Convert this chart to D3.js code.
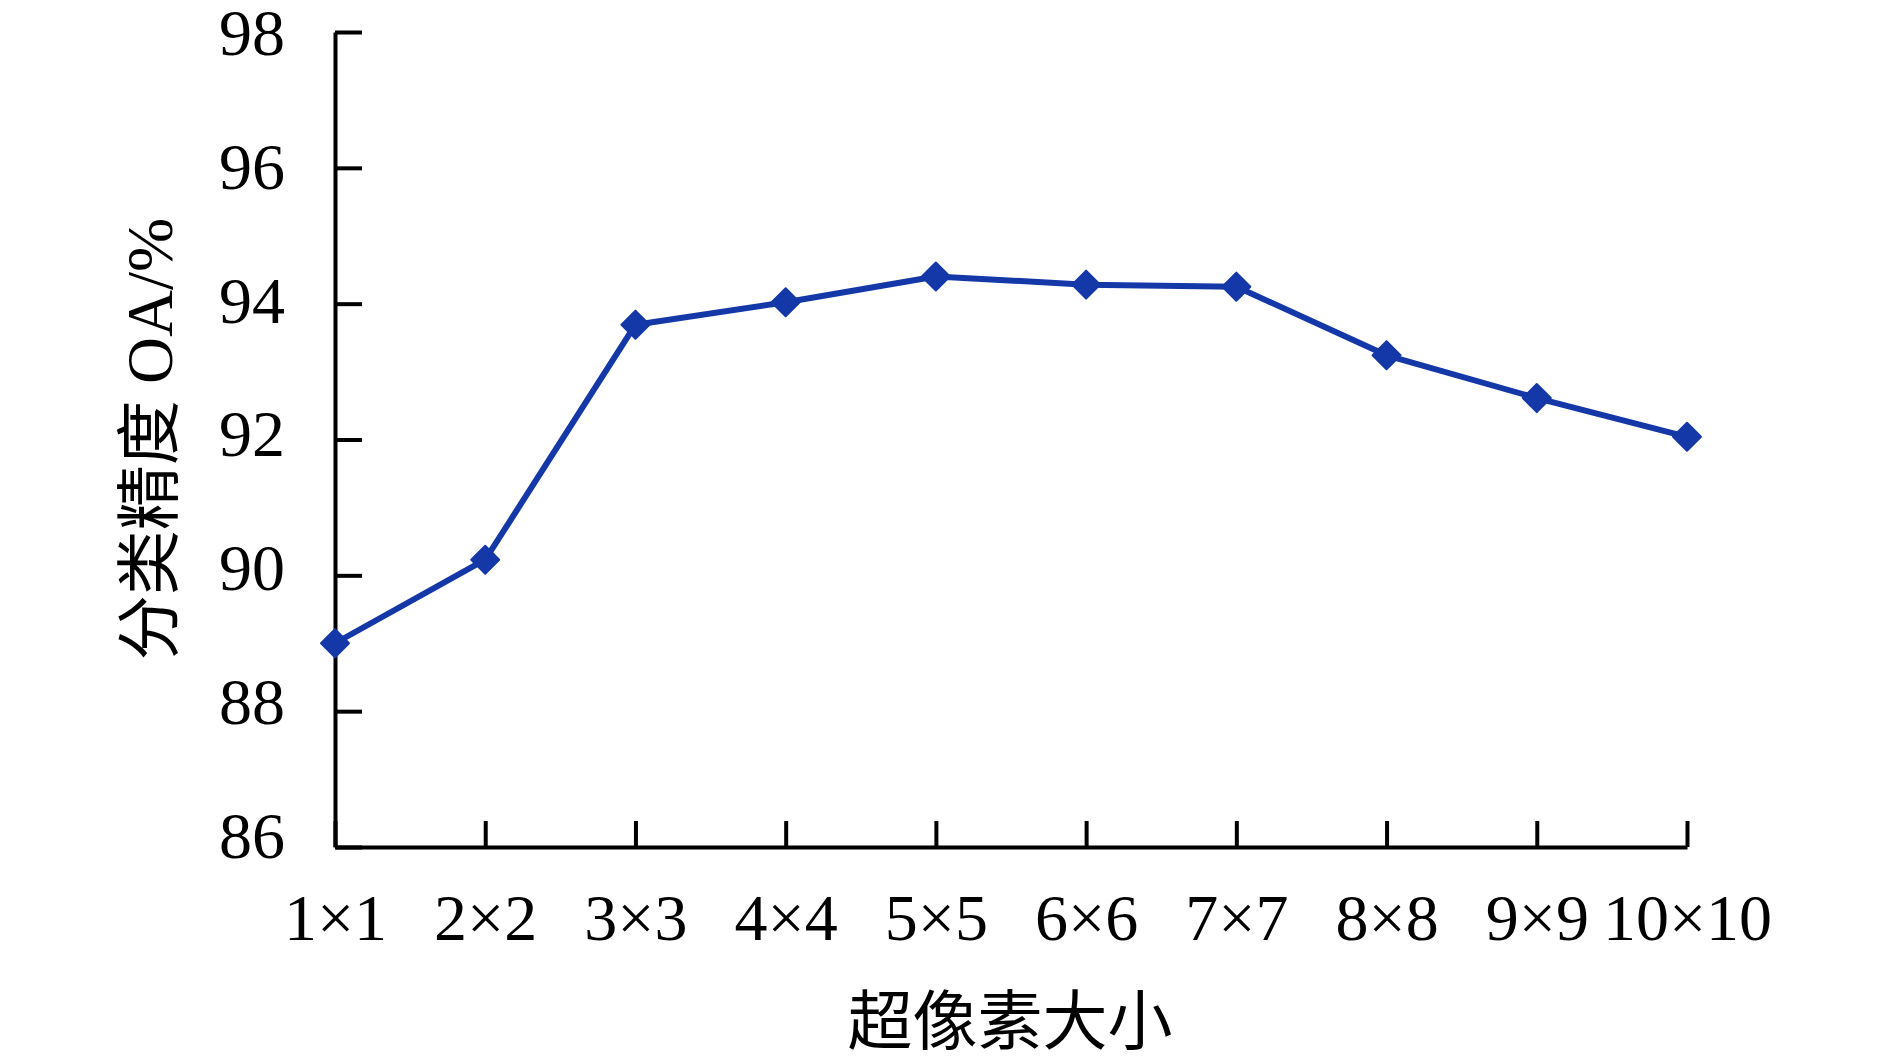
<!DOCTYPE html>
<html>
<head>
<meta charset="utf-8">
<script src="https://cdn.jsdelivr.net/npm/d3@7"></script>
<style>
  body { margin: 0; background: #fff; }
  text { font-family: "Liberation Serif", "Noto Sans CJK SC", serif; fill: #000; }
</style>
</head>
<body>
<svg width="1890" height="1058"></svg>
<script>
// chart data
var categories = ['1×1', '2×2', '3×3', '4×4', '5×5', '6×6', '7×7', '8×8', '9×9', '10×10'];
var oaValues = [89.0, 90.23, 93.69, 94.02, 94.40, 94.28, 94.25, 93.24, 92.61, 92.04];
var yTicks = [86, 88, 90, 92, 94, 96, 98];

var svg = d3.select('svg');

// plot area edges
var plot = {l: 335, r: 1687, t: 32, b: 847};
var lineColor = '#1538a8';

var xScale = d3.scalePoint()
    .domain(categories)
    .range([plot.l, plot.r]);

var yScale = d3.scaleLinear()
    .domain([86, 98])
    .range([plot.b, plot.t]);

// y axis, ticks pointing inward
var yAxis = svg.append('g')
    .attr('transform', 'translate(' + plot.l + ',0)')
    .call(d3.axisRight(yScale).tickValues(yTicks).tickSize(27).tickSizeOuter(0).tickFormat(d3.format('d')));
yAxis.select('.domain').attr('stroke', '#000').attr('stroke-width', 4);
yAxis.selectAll('.tick line').attr('stroke', '#000').attr('stroke-width', 4);
// labels sit a little tighter than the ticks in the original
yAxis.selectAll('.tick text')
    .attr('x', -50)
    .attr('y', function(d) { return -(98 - d) * 1.0; })
    .attr('dy', '0.34em')
    .attr('text-anchor', 'end')
    .style('font-size', '66px');

// x axis, ticks pointing up
var xAxis = svg.append('g')
    .attr('transform', 'translate(0,' + plot.b + ')')
    .call(d3.axisTop(xScale).tickSize(26).tickSizeOuter(0));
xAxis.select('.domain').attr('stroke', '#000').attr('stroke-width', 4);
xAxis.selectAll('.tick line').attr('stroke', '#000').attr('stroke-width', 4);
xAxis.selectAll('.tick text')
    .attr('y', 93)
    .attr('dy', 0)
    .attr('text-anchor', 'middle')
    .style('font-size', '66px');

// the line
var line = d3.line()
    .x(function(d, i) { return xScale(categories[i]); })
    .y(function(d) { return yScale(d); });

svg.append('path')
    .datum(oaValues)
    .attr('d', line)
    .attr('fill', 'none')
    .attr('stroke', lineColor)
    .attr('stroke-width', 6)
    .attr('stroke-linejoin', 'round');

// diamond markers
svg.selectAll('.marker')
    .data(oaValues)
    .enter()
    .append('path')
    .attr('class', 'marker')
    .attr('d', d3.symbol().type(d3.symbolDiamond2).size(500))
    .attr('transform', function(d, i) {
        return 'translate(' + [xScale(categories[i]), yScale(d)] + ')';
    })
    .attr('fill', lineColor)
    .attr('stroke', lineColor)
    .attr('stroke-width', 2)
    .attr('stroke-linejoin', 'round');

// axis titles
svg.append('text')
    .attr('x', (plot.l + plot.r) / 2 - 1)
    .attr('y', 1044)
    .attr('text-anchor', 'middle')
    .style('font-size', '65px')
    .text('超像素大小');

svg.append('text')
    .attr('transform', 'translate(' + [172, 439] + ') rotate(-90)')
    .attr('text-anchor', 'middle')
    .style('font-size', '65px')
    .text('分类精度 OA/%');
</script>
</body>
</html>
